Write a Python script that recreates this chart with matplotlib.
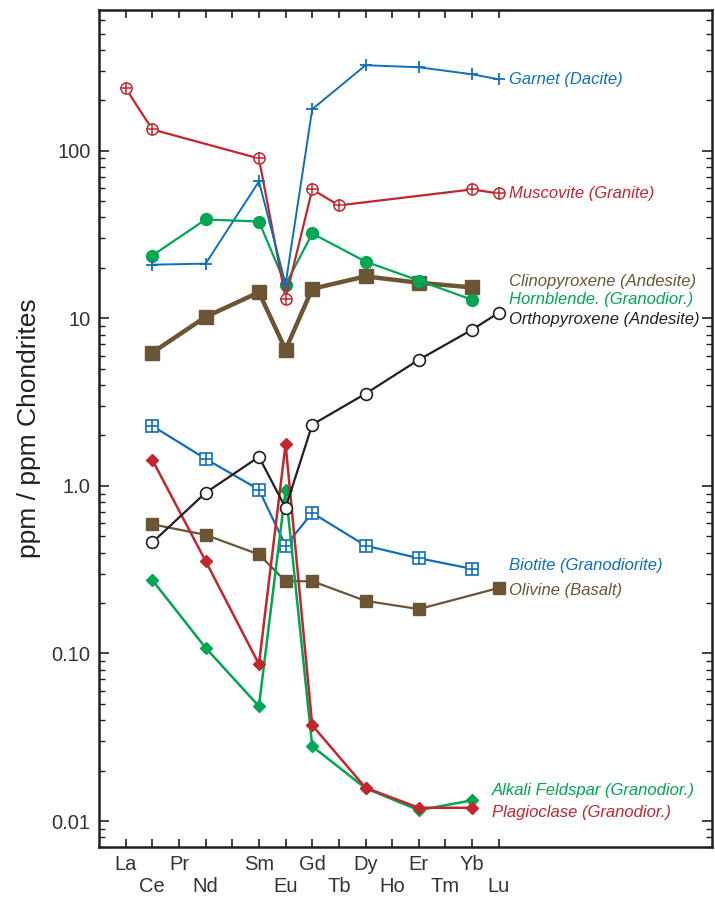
import matplotlib
matplotlib.use("Agg")
import matplotlib.pyplot as plt
from matplotlib.ticker import LogLocator, FixedLocator, NullFormatter

plt.rcParams['font.family'] = ['Liberation Sans', 'DejaVu Sans']

# REE order, La..Lu (Pm has a tick but no label)
elements = ["La", "Ce", "Pr", "Nd", "Pm", "Sm", "Eu", "Gd", "Tb", "Dy", "Ho", "Er", "Tm", "Yb", "Lu"]
label_row = [0, 1, 0, 1, 0, 0, 1, 0, 1, 0, 1, 0, 1, 0, 1]

garnet_x = ["Ce", "Nd", "Sm", "Eu", "Gd", "Dy", "Er", "Yb", "Lu"]
garnet_y = [20.9, 21.2, 65.6, 16.0, 177, 324, 315, 286, 267]

muscovite_x = ["La", "Ce", "Sm", "Eu", "Gd", "Tb", "Yb", "Lu"]
muscovite_y = [236, 134, 90, 13.1, 58.8, 47.2, 58.8, 55.6]

hornblende_x = ["Ce", "Nd", "Sm", "Eu", "Gd", "Dy", "Er", "Yb"]
hornblende_y = [23.7, 38.9, 37.8, 15.9, 32.1, 21.8, 16.8, 12.9]

clinopyroxene_x = ["Ce", "Nd", "Sm", "Eu", "Gd", "Dy", "Er", "Yb"]
clinopyroxene_y = [6.24, 10.2, 14.3, 6.5, 15.0, 17.8, 16.3, 15.3]

orthopyroxene_x = ["Ce", "Nd", "Sm", "Eu", "Gd", "Dy", "Er", "Yb", "Lu"]
orthopyroxene_y = [0.46, 0.91, 1.49, 0.74, 2.32, 3.55, 5.66, 8.56, 10.8]

biotite_x = ["Ce", "Nd", "Sm", "Eu", "Gd", "Dy", "Er", "Yb"]
biotite_y = [2.28, 1.45, 0.95, 0.44, 0.69, 0.44, 0.37, 0.32]

olivine_x = ["Ce", "Nd", "Sm", "Eu", "Gd", "Dy", "Er", "Lu"]
olivine_y = [0.59, 0.51, 0.39, 0.27, 0.27, 0.206, 0.184, 0.246]

alkali_x = ["Ce", "Nd", "Sm", "Eu", "Gd", "Dy", "Er", "Yb"]
alkali_y = [0.274, 0.108, 0.0484, 0.95, 0.0279, 0.0157, 0.0116, 0.0133]

plagioclase_x = ["Ce", "Nd", "Sm", "Eu", "Gd", "Dy", "Er", "Yb"]
plagioclase_y = [1.43, 0.356, 0.0863, 1.78, 0.0373, 0.0158, 0.0120, 0.0120]

BLUE = '#0f6fba'
RED = '#c1272d'
GREEN = '#00a651'
BROWN = '#6b5535'
BLACK = '#231f20'


def pos(names):
    return [elements.index(n) for n in names]


fig = plt.figure(figsize=(7.15, 9.0), dpi=100)
ax = fig.add_axes([0.1385, 0.0589, 0.8573, 0.93])

# open/crossed markers are built from two layers
ax.plot(pos(biotite_x), biotite_y, color=BLUE, lw=1.6, marker='s', ms=8,
        mfc='white', mec=BLUE, mew=1.2)
ax.plot(pos(biotite_x), biotite_y, ls='none', marker='+', ms=8, mec=BLUE, mew=1.2)

ax.plot(pos(olivine_x), olivine_y, color=BROWN, lw=1.6, marker='s', ms=8,
        mfc=BROWN, mec=BROWN)

ax.plot(pos(alkali_x), alkali_y, color=GREEN, lw=1.8, marker='D', ms=6.5,
        mfc=GREEN, mec=GREEN)
ax.plot(pos(plagioclase_x), plagioclase_y, color=RED, lw=1.8, marker='D', ms=6,
        mfc=RED, mec=RED)

ax.plot(pos(orthopyroxene_x), orthopyroxene_y, color=BLACK, lw=1.6, marker='o', ms=8.5,
        mfc='white', mec=BLACK, mew=1.2)

ax.plot(pos(clinopyroxene_x), clinopyroxene_y, color=BROWN, lw=3.2, marker='s', ms=9.5,
        mfc=BROWN, mec=BROWN)
ax.plot(pos(hornblende_x), hornblende_y, color=GREEN, lw=1.6, marker='o', ms=8.5,
        mfc=GREEN, mec=GREEN)

ax.plot(pos(muscovite_x), muscovite_y, color=RED, lw=1.6, marker='o', ms=8,
        mfc='white', mec=RED, mew=1.1)
ax.plot(pos(muscovite_x), muscovite_y, ls='none', marker='+', ms=8, mec=RED, mew=1.1)

ax.plot(pos(garnet_x), garnet_y, color=BLUE, lw=1.4, marker='+', ms=9,
        mec=BLUE, mew=1.3)

# series labels
labels = [
    (14.4, 265, "Garnet (Dacite)", BLUE),
    (14.4, 55.4, "Muscovite (Granite)", RED),
    (14.4, 16.5, "Clinopyroxene (Andesite)", BROWN),
    (14.4, 12.9, "Hornblende. (Granodior.)", GREEN),
    (14.4, 9.8, "Orthopyroxene (Andesite)", BLACK),
    (14.4, 0.337, "Biotite (Granodiorite)", BLUE),
    (14.4, 0.239, "Olivine (Basalt)", BROWN),
    (13.75, 0.0153, "Alkali Feldspar (Granodior.)", GREEN),
    (13.75, 0.01117, "Plagioclase (Granodior.)", RED),
]
for x, y, txt, c in labels:
    ax.text(x, y, txt, color=c, fontsize=12, style='italic', va='center', ha='left')

ax.set_yscale('log')
ax.set_xlim(-1.0, 22.0)
ax.set_ylim(0.0070, 692)

ax.xaxis.set_major_locator(FixedLocator(range(len(elements))))
xt = []
for name, row in zip(elements, label_row):
    if name == "Pm":
        xt.append("")
    elif row == 1:
        xt.append("\n" + name)
    else:
        xt.append(name)
ax.set_xticklabels(xt, fontsize=14.5, linespacing=1.15)

ax.yaxis.set_major_locator(FixedLocator([0.01, 0.1, 1, 10, 100]))
ax.set_yticklabels(["0.01", "0.10", "1.0", "10", "100"], fontsize=14.5)
ax.yaxis.set_minor_locator(LogLocator(base=10, subs=range(2, 10)))
ax.yaxis.set_minor_formatter(NullFormatter())

ax.tick_params(axis='both', which='major', direction='in', top=True, right=True,
               length=7, width=1.2, colors='#231f20', labelcolor='#333333')
ax.tick_params(axis='x', which='major', length=6, pad=6)
ax.tick_params(axis='y', which='major', pad=6)
ax.tick_params(axis='y', which='minor', direction='in', right=True, length=4, width=1.0,
               colors='#231f20')
for s in ax.spines.values():
    s.set_linewidth(1.8)
    s.set_color('#231f20')

ax.set_ylabel("ppm / ppm Chondrites", fontsize=19, labelpad=8, color='#231f20')

fig.savefig("out.png", dpi=100)
